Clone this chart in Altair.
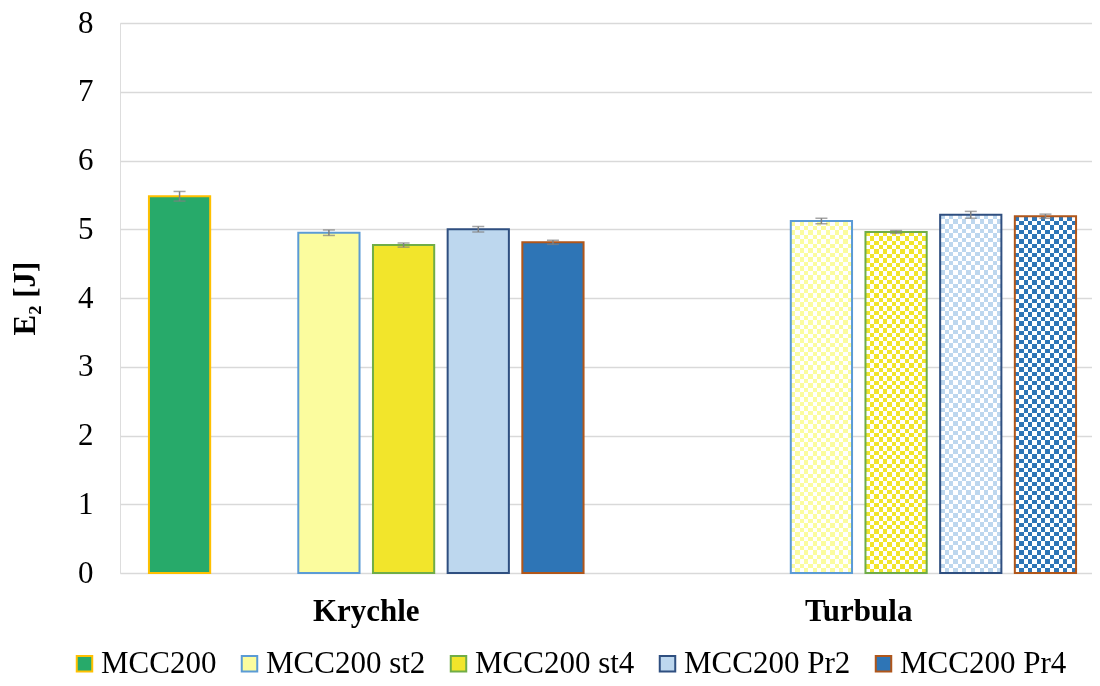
import altair as alt
import pandas as pd

groups = ["Krychle", "Turbula"]
series = ["MCC200", "MCC200 st2", "MCC200 st4", "MCC200 Pr2", "MCC200 Pr4"]
krychle_vals = [5.48, 4.95, 4.77, 5.00, 4.81]
krychle_err = [0.07, 0.04, 0.03, 0.04, 0.03]
turbula_vals = [None, 5.12, 4.96, 5.21, 5.19]
turbula_err = [None, 0.04, 0.02, 0.05, 0.03]
y_ticks = [0, 1, 2, 3, 4, 5, 6, 7, 8]

fill_colors = ["#27AA6A", "#FBFC9E", "#F2E52B", "#BDD7EE", "#2E75B6"]
stroke_colors = ["#FFC000", "#5B9BD5", "#70AD47", "#2F4F80", "#B0561A"]
slot_domain = [series[0], "_gap"] + series[1:]

rows = []
for g, vals, errs in [(groups[0], krychle_vals, krychle_err), (groups[1], turbula_vals, turbula_err)]:
    for s, v, e in zip(series, vals, errs):
        if v is not None:
            rows.append({"group": g, "series": s, "value": v, "err": e})
df = pd.DataFrame(rows)

FONT = "Liberation Serif"
FS = 31


def stripes(n, vertical):
    stops = []
    for i in range(n):
        c = "#000000" if i % 2 == 0 else "#ffffff"
        stops.append({"offset": i / n, "color": c})
        stops.append({"offset": (i + 1) / n, "color": c})
    if vertical:
        return alt.LinearGradient(gradient="linear", stops=stops, x1=0, x2=1, y1=0, y2=0)
    return alt.LinearGradient(gradient="linear", stops=stops, x1=0, x2=0, y1=0, y2=1)


x_enc = alt.X(
    "group:N",
    scale=alt.Scale(domain=groups, paddingInner=0, paddingOuter=0, range=[0, 985]),
    axis=alt.Axis(
        title=None, labelAngle=0, ticks=False, domain=False, grid=False,
        labelFont=FONT, labelFontSize=FS,
        labelFontWeight="bold", labelColor="black", labelPadding=23,
    ),
)
xo_enc = alt.XOffset(
    "series:N", scale=alt.Scale(domain=slot_domain, paddingInner=0.18, paddingOuter=0.3875)
)
y_axis = alt.Axis(
    title="E₂ [J]", values=y_ticks, format="d", ticks=False, domain=False,
    gridColor="#D9D9D9", gridWidth=1.5, labelFont=FONT, labelFontSize=FS,
    labelColor="black", labelPadding=27, titleFont=FONT, titleFontSize=FS,
    titleFontWeight="bold", titleColor="black", titlePadding=36,
)
y_enc = alt.Y("value:Q", scale=alt.Scale(domain=[0, 8], nice=False), axis=y_axis)
legend_cfg = dict(
    title=None, orient="none", legendX=-51, legendY=625, direction="horizontal",
    columns=5, symbolType="square", symbolSize=240, symbolStrokeWidth=2,
    labelFont=FONT, labelFontSize=FS, labelColor="black", columnPadding=17,
    labelOffset=1, labelLimit=0, symbolOpacity=1,
)
color_enc = alt.Color(
    "series:N",
    scale=alt.Scale(domain=series, range=fill_colors),
    legend=alt.Legend(**legend_cfg),
)
stroke_enc = alt.Stroke(
    "series:N",
    scale=alt.Scale(domain=series, range=stroke_colors),
    legend=alt.Legend(**legend_cfg),
)

base = alt.Chart(df)
solid = base.transform_filter(alt.datum.group == groups[0])
pat = base.transform_filter(alt.datum.group == groups[1])

solid_bars = solid.mark_bar(strokeWidth=2).encode(
    x=x_enc, xOffset=xo_enc, y=y_enc, color=color_enc, stroke=stroke_enc
)
pat_l1 = pat.mark_bar(fill=stripes(14, True)).encode(x=x_enc, xOffset=xo_enc, y=y_enc)
pat_l2 = pat.mark_bar(fill=stripes(78, False), blend="difference").encode(
    x=x_enc, xOffset=xo_enc, y=y_enc
)
pat_l3 = pat.mark_bar(blend="screen").encode(
    x=x_enc, xOffset=xo_enc, y=y_enc, color=color_enc
)
pat_l4 = pat.mark_bar(fillOpacity=0, strokeWidth=2).encode(
    x=x_enc, xOffset=xo_enc, y=y_enc, stroke=stroke_enc
)

err_base = base.transform_calculate(
    lo="datum.value - datum.err", hi="datum.value + datum.err"
)
err_rule = err_base.mark_rule(color="#808080", strokeWidth=1.5).encode(
    x=x_enc, xOffset=xo_enc, y=alt.Y("lo:Q", axis=y_axis), y2="hi:Q"
)
cap_lo = err_base.mark_tick(color="#808080", thickness=1.5, size=12).encode(
    x=x_enc, xOffset=xo_enc, y=alt.Y("lo:Q", axis=y_axis)
)
cap_hi = err_base.mark_tick(color="#808080", thickness=1.5, size=12).encode(
    x=x_enc, xOffset=xo_enc, y=alt.Y("hi:Q", axis=y_axis)
)

chart = (
    alt.layer(solid_bars, pat_l1, pat_l2, pat_l3, pat_l4, err_rule, cap_lo, cap_hi)
    .properties(
        width=972, height=550,
        autosize=alt.AutoSizeParams(type="none"),
        padding={"left": 112, "top": 15, "right": 0, "bottom": 105},
    )
    .configure_view(stroke="transparent", strokeWidth=0)
    .configure_axisY(domain=False, domainOpacity=0)
    .configure_axisX(grid=False, gridOpacity=0, domain=False)
    .configure_axis(tickOpacity=0)
    .configure(background="white")
)

chart.save("out.html", embed_options={"renderer": "svg", "actions": False})
